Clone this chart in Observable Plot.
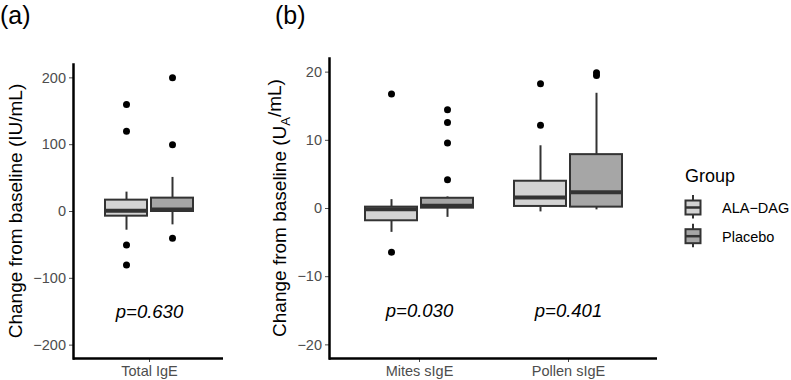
<!DOCTYPE html>
<html><head><meta charset="utf-8">
<script src="https://cdn.jsdelivr.net/npm/d3@7"></script>
<script src="https://cdn.jsdelivr.net/npm/@observablehq/plot@0.6"></script>
<style>
body{margin:0;background:#fff;}
#wrap{position:relative;width:791px;height:380px;overflow:hidden;font-family:"Liberation Sans",Arial,sans-serif;}
#wrap > svg{position:absolute;top:0;}
</style></head><body><div id="wrap"></div>
<script>
// ---- data ----
const groups = ["ALA−DAG", "Placebo"];
const groupFills = ["#d3d3d3", "#a6a6a6"];

// Panel (a): Total IgE (IU/mL)
const totalCategories = ["Total IgE"];
const totalCategory = ["Total IgE", "Total IgE"];
const totalGroup = ["ALA−DAG", "Placebo"];
const totalLow = [-28, -20];
const totalQ1 = [-7, 0];
const totalMedian = [1, 3];
const totalQ3 = [17, 20];
const totalHigh = [29, 51];
const totalOutliers = [[160, 120, -50, -80], [200, 100, -40]];
const totalTicks = [-200, -100, 0, 100, 200];
const totalP = ["p=0.630"];

// Panel (b): specific IgE (UA/mL)
const sigeCategories = ["Mites sIgE", "Pollen sIgE"];
const sigeCategory = ["Mites sIgE", "Mites sIgE", "Pollen sIgE", "Pollen sIgE"];
const sigeGroup = ["ALA−DAG", "Placebo", "ALA−DAG", "Placebo"];
const sigeLow = [-3.5, -1.3, -0.5, -0.2];
const sigeQ1 = [-1.8, 0.05, 0.3, 0.2];
const sigeMedian = [-0.1, 0.4, 1.6, 2.4];
const sigeQ3 = [0.2, 1.5, 4.0, 7.9];
const sigeHigh = [1.3, 1.7, 9.2, 16.9];
const sigeOutliers = [[16.8, -6.4], [14.5, 12.6, 9.6, 4.2], [18.3, 12.2], [19.9, 19.5]];
const sigeTicks = [-20, -10, 0, 10, 20];
const sigeP = ["p=0.030", "p=0.401"];

const FONT = "Liberation Sans, Arial, sans-serif";

function boxPanel(o) {
  const rows = o.catCol.map((c, i) => ({cat: c, grp: o.grpCol[i], low: o.low[i], q1: o.q1[i], med: o.med[i], q3: o.q3[i], high: o.high[i]}));
  const outRows = o.outs.flatMap((vs, i) => vs.map(v => ({cat: o.catCol[i], grp: o.grpCol[i], v})));
  const pRows = o.cats.map((c, i) => ({cat: c, label: o.pvals[i], y: o.pY}));
  const marks = [
    Plot.frame({anchor: "left", stroke: "black", strokeWidth: 2.5}),
    Plot.ruleY([o.yDomain[0]], {stroke: "black", strokeWidth: 2.5})
  ];
  groups.forEach((g, gi) => {
    const sign = gi === 0 ? -1 : 1;
    const off = sign * (o.boxW + o.gap) / 2;
    const inset = o.boxW + o.gap;
    const sel = rows.filter(d => d.grp === g);
    const outSel = outRows.filter(d => d.grp === g);
    const ins = {insetLeft: gi === 0 ? 0 : inset, insetRight: gi === 0 ? inset : 0};
    marks.push(Plot.ruleX(sel, {x: "cat", y1: "q3", y2: "high", dx: off, stroke: "#333", strokeWidth: 2}));
    marks.push(Plot.ruleX(sel, {x: "cat", y1: "low", y2: "q1", dx: off, stroke: "#333", strokeWidth: 2}));
    marks.push(Plot.barY(sel, {x: "cat", y1: "q1", y2: "q3", fill: "grp", stroke: "#333", strokeWidth: 2, ...ins}));
    marks.push(Plot.tickY(sel, {x: "cat", y: "med", stroke: "#333", strokeWidth: 4, ...ins}));
    marks.push(Plot.dot(outSel, {x: "cat", y: "v", dx: off, r: 3.5, fill: "black", stroke: "none"}));
  });
  marks.push(Plot.text(pRows, {x: "cat", y: "y", text: "label", fontStyle: "italic", fontSize: 18.5, fill: "black"}));
  const svg = Plot.plot({
    width: o.width, height: 380,
    marginLeft: o.marginLeft, marginRight: o.marginRight, marginTop: o.marginTop, marginBottom: o.marginBottom,
    style: {fontFamily: FONT, fontSize: "14.5px", color: "#4d4d4d", background: "transparent"},
    x: {domain: o.cats, paddingInner: o.paddingInner, paddingOuter: o.paddingOuter, align: o.align, label: null, tickSize: 4, tickPadding: 3.5},
    y: {domain: o.yDomain, ticks: o.ticks, label: null, tickSize: 4, tickPadding: 3.5},
    color: {domain: groups, range: groupFills},
    marks
  });
  svg.style.left = o.left + "px";
  return svg;
}

const wrap = document.getElementById("wrap");

const svgA = boxPanel({
  cats: totalCategories, catCol: totalCategory, grpCol: totalGroup,
  low: totalLow, q1: totalQ1, med: totalMedian, q3: totalQ3, high: totalHigh,
  outs: totalOutliers, ticks: totalTicks, pvals: totalP, pY: -150,
  yDomain: [-220, 220], left: 0, width: 250,
  marginLeft: 73, marginRight: 27, marginTop: 64, marginBottom: 22,
  paddingInner: 0, paddingOuter: 0.352, align: 0.52, boxW: 42, gap: 4
});
wrap.appendChild(svgA);

const svgB = boxPanel({
  cats: sigeCategories, catCol: sigeCategory, grpCol: sigeGroup,
  low: sigeLow, q1: sigeQ1, med: sigeMedian, q3: sigeQ3, high: sigeHigh,
  outs: sigeOutliers, ticks: sigeTicks, pvals: sigeP, pY: -15,
  yDomain: [-22, 22], left: 255, width: 420,
  marginLeft: 74, marginRight: 18, marginTop: 58, marginBottom: 22,
  paddingInner: 0.277, paddingOuter: 0.236, align: 0.5, boxW: 52, gap: 4
});
wrap.appendChild(svgB);

// panel tags and axis titles
const sa = d3.select(svgA), sb = d3.select(svgB);
sa.append("text").attr("x", 0).attr("y", 24).attr("text-anchor", "start").attr("font-size", 25).attr("fill", "black").attr("font-family", FONT).text("(a)");
sb.append("text").attr("x", 20).attr("y", 24).attr("text-anchor", "start").attr("font-size", 25).attr("fill", "black").attr("font-family", FONT).text("(b)");

sa.append("text").attr("transform", "translate(15,211) rotate(-90)").attr("text-anchor", "middle").attr("dy", "0.35em")
  .attr("font-size", 19).attr("fill", "black").attr("font-family", FONT).text("Change from baseline (IU/mL)");
const tb = sb.append("text").attr("transform", "translate(24,208) rotate(-90)").attr("text-anchor", "middle").attr("dy", "0.35em")
  .attr("font-size", 19).attr("fill", "black").attr("font-family", FONT);
tb.append("tspan").text("Change from baseline (U");
tb.append("tspan").attr("font-size", 13).attr("dy", "0.3em").text("A");
tb.append("tspan").attr("dy", "-0.45em").text("/mL)");

// legend
const leg = d3.select(wrap).append("svg").attr("width", 116).attr("height", 380)
  .style("left", "675px").style("font-family", FONT);
leg.append("text").attr("x", 10).attr("y", 181.5).attr("font-size", 18).attr("fill", "black").text("Group");
groups.forEach((g, i) => {
  const cy = 207.5 + i * 28.7;
  const k = leg.append("g");
  k.append("line").attr("x1", 18).attr("x2", 18).attr("y1", cy - 12.5).attr("y2", cy + 11).attr("stroke", "#333").attr("stroke-width", 2);
  k.append("rect").attr("x", 10.5).attr("y", cy - 7).attr("width", 15).attr("height", 14).attr("fill", groupFills[i]).attr("stroke", "#333").attr("stroke-width", 2);
  k.append("line").attr("x1", 10.5).attr("x2", 25.5).attr("y1", cy).attr("y2", cy).attr("stroke", "#333").attr("stroke-width", 2.5);
  leg.append("text").attr("x", 47).attr("y", cy + 5.5).attr("font-size", 14.5).attr("fill", "black").text(g);
});
</script></body></html>
